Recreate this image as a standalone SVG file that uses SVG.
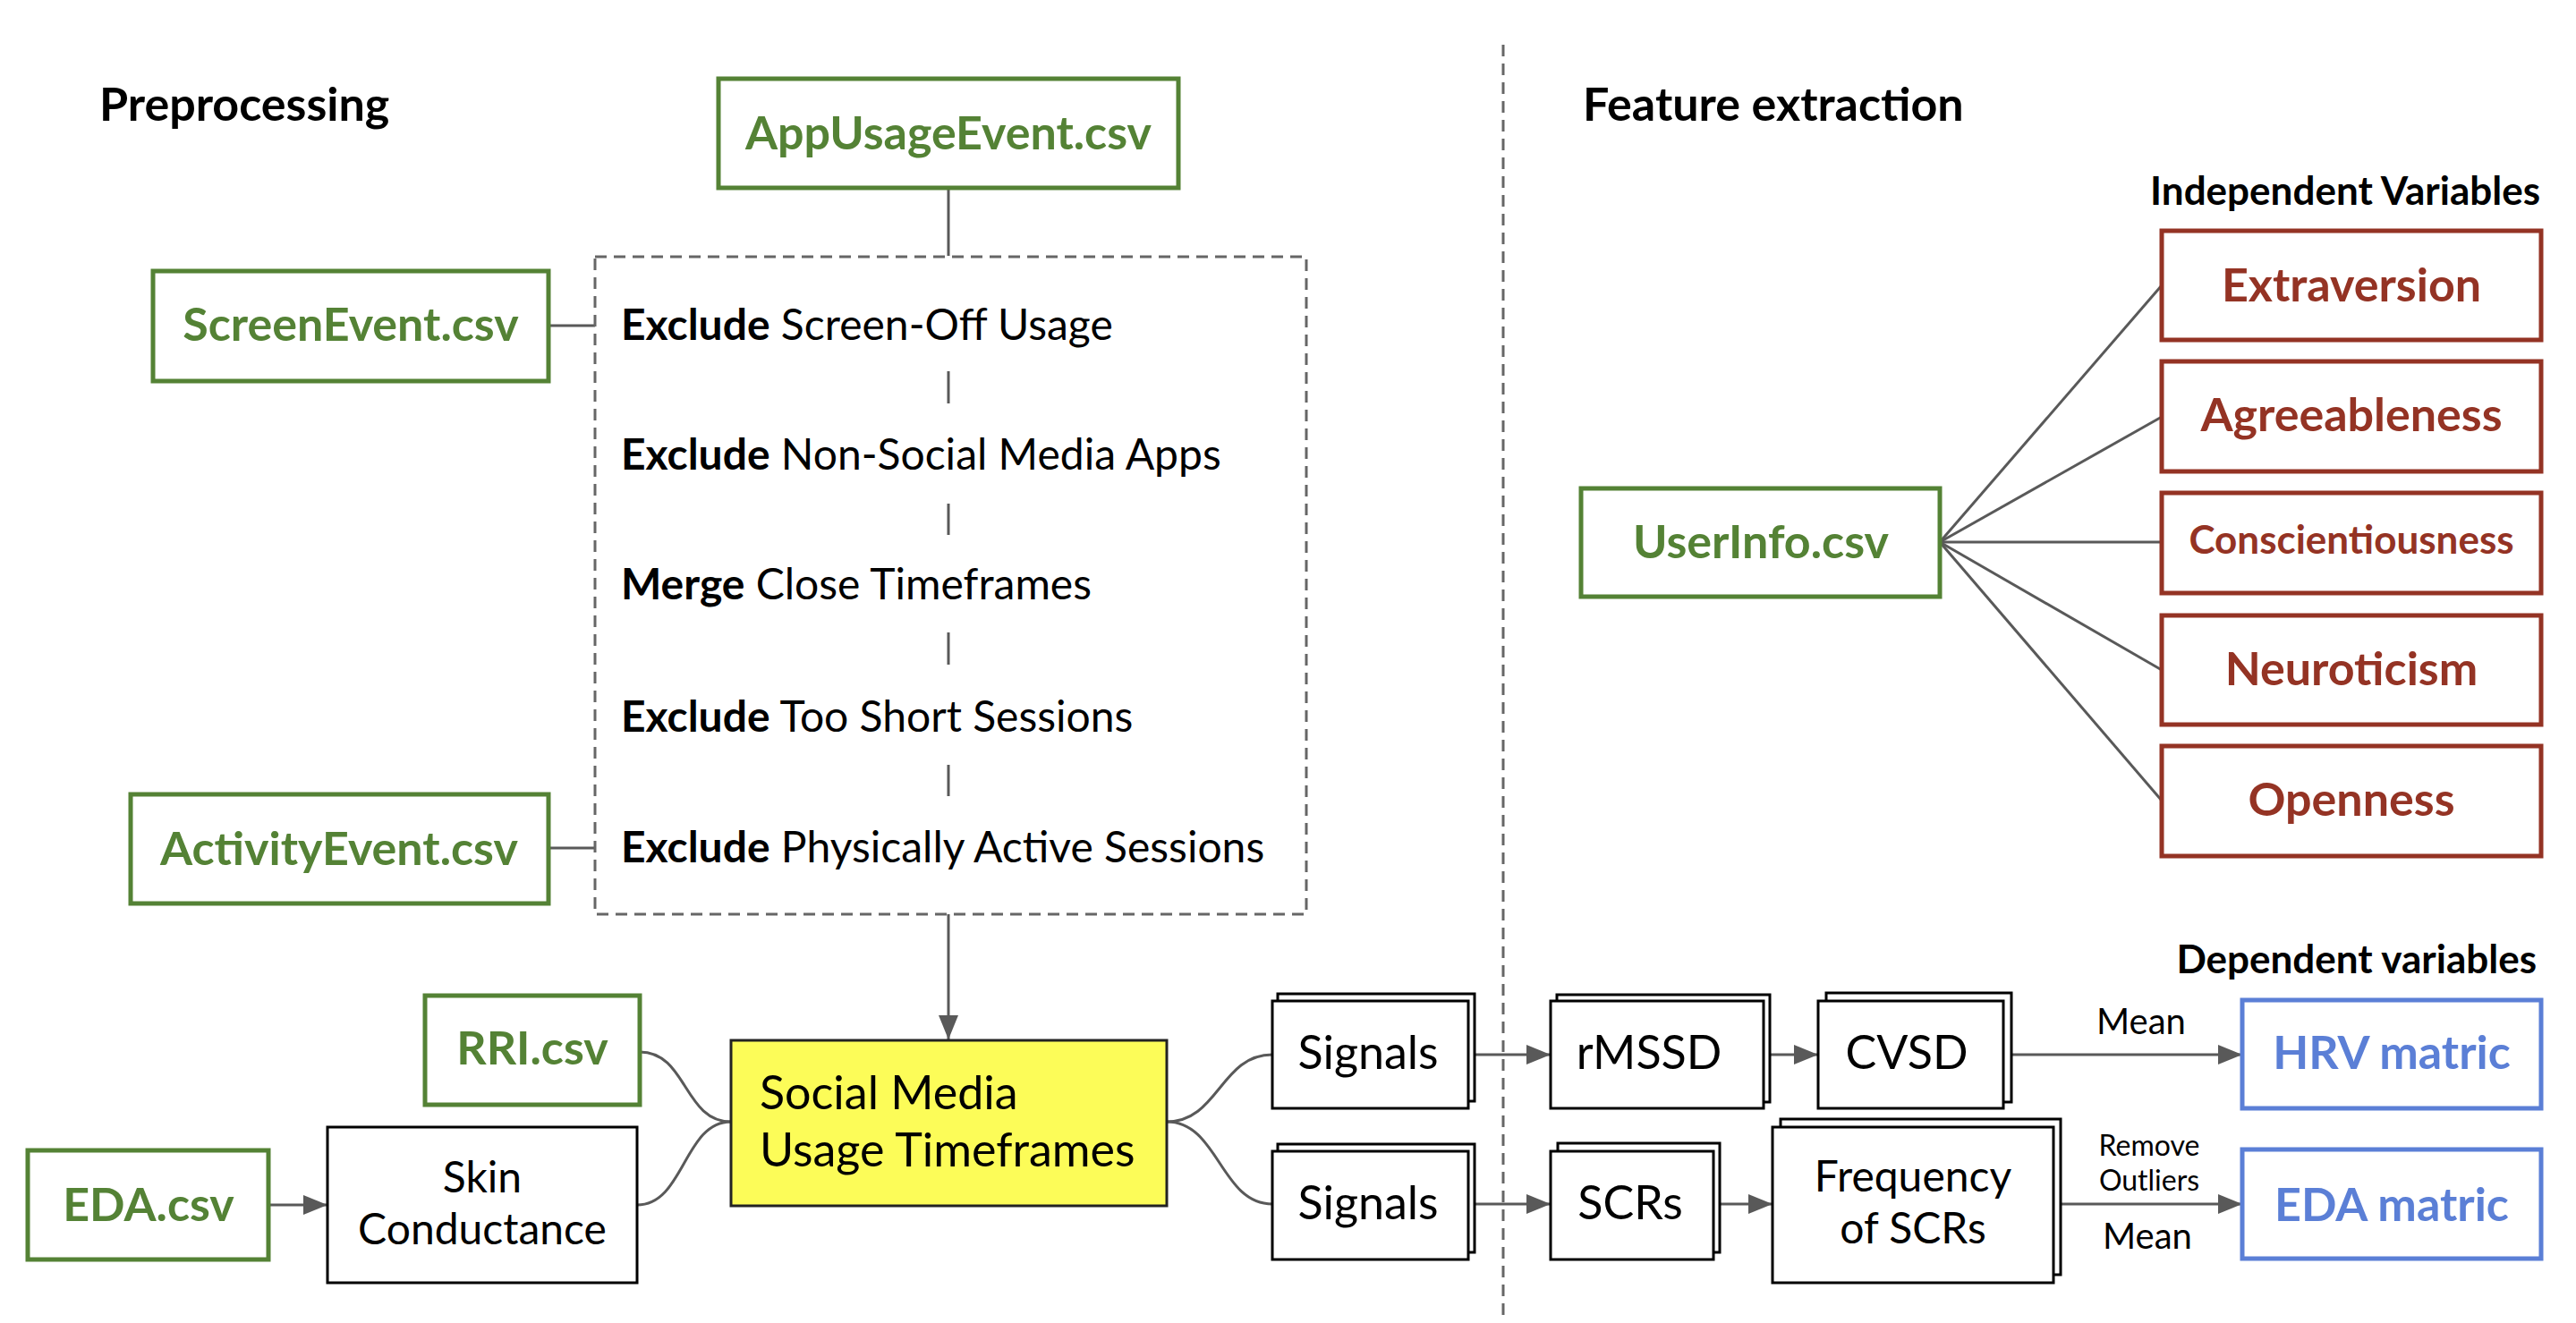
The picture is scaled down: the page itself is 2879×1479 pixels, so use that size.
<svg xmlns="http://www.w3.org/2000/svg" width="2879" height="1479" viewBox="0 0 2879 1479">
<defs>
<marker id="arr" markerUnits="userSpaceOnUse" markerWidth="28" markerHeight="22" refX="27" refY="11" orient="auto">
<path d="M0,0 L27,11 L0,22 z" fill="#595959"/>
</marker>
<style>
text{font-family:Lato,"Open Sans","Liberation Sans",sans-serif;}
.title{font-size:52px;font-weight:bold;fill:#000;}
.csv rect{fill:#fff;stroke:#548235;stroke-width:5;}
.csv text{font-size:52px;font-weight:bold;fill:#548235;text-anchor:middle;}
.trait rect{fill:#fff;stroke:#943324;stroke-width:5;}
.trait text{font-size:52px;font-weight:bold;fill:#943324;text-anchor:middle;}
.dep rect{fill:#fff;stroke:#5b7fd6;stroke-width:5;}
.dep text{font-size:52px;font-weight:bold;fill:#5b7fd6;text-anchor:middle;}
.box rect{fill:#fff;stroke:#000;stroke-width:3;}
.box text{font-size:52px;fill:#000;text-anchor:middle;}
.box text.s{font-size:48px;}
.step{font-size:48px;fill:#000;}
.step tspan.b{font-weight:bold;}
.lbl{font-size:40px;fill:#000;text-anchor:middle;}
.conn{fill:none;stroke:#595959;stroke-width:3;}
.arrow{fill:none;stroke:#595959;stroke-width:3;marker-end:url(#arr);}
</style>
</defs>

<text class="title" x="111" y="135">Preprocessing</text>
<text class="title" x="1769" y="135">Feature extraction</text>
<text class="title" x="2839" y="229" text-anchor="end" style="font-size:44px">Independent Variables</text>
<text class="title" x="2835" y="1088" text-anchor="end" style="font-size:44px">Dependent variables</text>

<line x1="1680" y1="50" x2="1680" y2="1470" stroke="#666" stroke-width="3" stroke-dasharray="13,8"/>

<g id="connectors">
<line class="conn" x1="1060" y1="210" x2="1060" y2="286"/>
<line class="conn" x1="613" y1="364" x2="665" y2="364"/>
<line class="conn" x1="613" y1="948" x2="665" y2="948"/>
<line class="conn" x1="1060" y1="415" x2="1060" y2="451"/>
<line class="conn" x1="1060" y1="563" x2="1060" y2="598"/>
<line class="conn" x1="1060" y1="707" x2="1060" y2="743"/>
<line class="conn" x1="1060" y1="855" x2="1060" y2="890"/>
<line class="arrow" x1="1060" y1="1022" x2="1060" y2="1162"/>
<line class="arrow" x1="300" y1="1347" x2="366" y2="1347"/>
<path class="conn" d="M715,1176 C768,1176 764,1254 817,1254"/>
<path class="conn" d="M712,1347 C765,1347 764,1254 817,1254"/>
<path class="conn" d="M1304,1254 C1362,1254 1364,1179 1422,1179"/>
<path class="conn" d="M1304,1254 C1362,1254 1364,1346 1422,1346"/>
<line class="arrow" x1="1641" y1="1179" x2="1733" y2="1179"/>
<line class="arrow" x1="1641" y1="1346" x2="1733" y2="1346"/>
<line class="arrow" x1="1971" y1="1179" x2="2032" y2="1179"/>
<line class="arrow" x1="1915" y1="1346" x2="1981" y2="1346"/>
<line class="arrow" x1="2239" y1="1179" x2="2506" y2="1179"/>
<line class="arrow" x1="2295" y1="1346" x2="2506" y2="1346"/>
<line class="conn" x1="2168" y1="606" x2="2416" y2="319"/>
<line class="conn" x1="2168" y1="606" x2="2416" y2="466"/>
<line class="conn" x1="2168" y1="606" x2="2416" y2="606"/>
<line class="conn" x1="2168" y1="606" x2="2416" y2="749"/>
<line class="conn" x1="2168" y1="606" x2="2416" y2="895"/>
</g>

<g id="filters">
<rect x="665" y="287" width="795" height="735" fill="none" stroke="#666" stroke-width="3" stroke-dasharray="13,8"/>
<text class="step" x="694" y="380"><tspan class="b">Exclude</tspan> Screen-Off Usage</text>
<text class="step" x="694" y="525"><tspan class="b">Exclude</tspan> Non-Social Media Apps</text>
<text class="step" x="694" y="670"><tspan class="b">Merge</tspan> Close Timeframes</text>
<text class="step" x="694" y="818"><tspan class="b">Exclude</tspan> Too Short Sessions</text>
<text class="step" x="694" y="964"><tspan class="b">Exclude</tspan> Physically Active Sessions</text>
</g>

<g id="appusage" class="csv"><rect x="803" y="88" width="514" height="122"/><text x="1060" y="167">AppUsageEvent.csv</text></g>
<g id="screen" class="csv"><rect x="171" y="303" width="442" height="123"/><text x="392" y="381">ScreenEvent.csv</text></g>
<g id="activity" class="csv"><rect x="146" y="888" width="467" height="122"/><text x="379" y="967">ActivityEvent.csv</text></g>
<g id="rri" class="csv"><rect x="475" y="1113" width="240" height="122"/><text x="595" y="1190">RRI.csv</text></g>
<g id="eda" class="csv"><rect x="31" y="1286" width="269" height="122"/><text x="166" y="1365">EDA.csv</text></g>
<g id="userinfo" class="csv"><rect x="1767" y="546" width="401" height="121"/><text x="1968" y="624">UserInfo.csv</text></g>

<g id="skin" class="box"><rect x="366" y="1260" width="346" height="174"/><text class="s" x="539" y="1333">Skin</text><text class="s" x="539" y="1391">Conductance</text></g>

<g id="smut"><rect x="817" y="1163" width="487" height="185" fill="#fcfc58" stroke="#222" stroke-width="3"/>
<text x="849" y="1240" style="font-size:52px">Social Media</text>
<text x="849" y="1304" style="font-size:52px">Usage Timeframes</text></g>

<g id="signals1" class="box"><rect x="1428" y="1111" width="220" height="120"/><rect x="1422" y="1119" width="219" height="120"/><text x="1529" y="1195">Signals</text></g>
<g id="signals2" class="box"><rect x="1428" y="1279" width="220" height="121"/><rect x="1422" y="1287" width="219" height="121"/><text x="1529" y="1363">Signals</text></g>
<g id="rmssd" class="box"><rect x="1740" y="1112" width="238" height="120"/><rect x="1733" y="1119" width="238" height="120"/><text x="1843" y="1195">rMSSD</text></g>
<g id="cvsd" class="box"><rect x="2041" y="1110" width="207" height="122"/><rect x="2032" y="1119" width="207" height="120"/><text x="2131" y="1195">CVSD</text></g>
<g id="scrs" class="box"><rect x="1741" y="1278" width="181" height="122"/><rect x="1733" y="1287" width="182" height="121"/><text x="1822" y="1363">SCRs</text></g>
<g id="freq" class="box"><rect x="1990" y="1251" width="313" height="174"/><rect x="1981" y="1260" width="314" height="174"/><text class="s" x="2138" y="1332">Frequency</text><text class="s" x="2138" y="1390">of SCRs</text></g>

<text class="lbl" x="2393" y="1156">Mean</text>
<text class="lbl" x="2402" y="1292" style="font-size:32px">Remove</text>
<text class="lbl" x="2402" y="1331" style="font-size:32px">Outliers</text>
<text class="lbl" x="2400" y="1396">Mean</text>

<g id="hrv" class="dep"><rect x="2506" y="1118" width="334" height="121"/><text x="2673" y="1195">HRV matric</text></g>
<g id="edam" class="dep"><rect x="2506" y="1285" width="334" height="122"/><text x="2673" y="1365">EDA matric</text></g>

<g id="extraversion" class="trait"><rect x="2416" y="258" width="424" height="122"/><text x="2628" y="337">Extraversion</text></g>
<g id="agreeableness" class="trait"><rect x="2416" y="404" width="424" height="123"/><text x="2628" y="482">Agreeableness</text></g>
<g id="conscientiousness" class="trait"><rect x="2416" y="551" width="424" height="112"/><text x="2628" y="619" style="font-size:44px">Conscientiousness</text></g>
<g id="neuroticism" class="trait"><rect x="2416" y="688" width="424" height="122"/><text x="2628" y="766">Neuroticism</text></g>
<g id="openness" class="trait"><rect x="2416" y="834" width="424" height="123"/><text x="2628" y="912">Openness</text></g>
</svg>
